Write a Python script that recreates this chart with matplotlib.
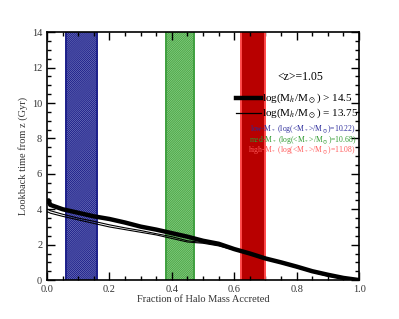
import matplotlib
matplotlib.use("agg")
import matplotlib.pyplot as plt
from matplotlib.ticker import MultipleLocator, FormatStrFormatter

plt.rcParams.update({
    "font.family": ["Liberation Serif", "DejaVu Serif"],
    "mathtext.fontset": "stix",
    "hatch.linewidth": 0.8,
})

# accretion histories (fraction of halo mass accreted vs lookback time)
frac = [0.0, 0.005, 0.01, 0.05, 0.10, 0.15, 0.20, 0.25, 0.30, 0.35, 0.40, 0.45,
        0.50, 0.55, 0.60, 0.65, 0.70, 0.75, 0.80, 0.85, 0.90, 0.95, 1.0]
t_high = [4.45, 4.5, 4.25, 4.0, 3.8, 3.6, 3.45, 3.25, 3.02, 2.85, 2.65, 2.45,
          2.22, 2.05, 1.75, 1.5, 1.22, 1.0, 0.76, 0.5, 0.3, 0.12, 0.0]
t_low1 = [3.85, 3.83, 3.78, 3.6, 3.4, 3.2, 3.0, 2.85, 2.7, 2.55, 2.35, 2.15,
          2.08, 1.93, 1.7, 1.45, 1.2, 0.95, 0.7, 0.45, 0.22, 0.08, 0.0]
t_low2 = [4.0, 3.98, 3.92, 3.72, 3.5, 3.32, 3.12, 2.95, 2.8, 2.62, 2.45, 2.22,
          2.12, 1.98, 1.74, 1.5, 1.24, 1.0, 0.75, 0.52, 0.3, 0.12, 0.0]

# stellar mass bins, shown as bands
bands_lo = [0.06, 0.38, 0.62]
bands_hi = [0.16, 0.47, 0.70]
band_labels = [r"low-M$_*$ (log(<M$_*$>/M$_\odot$)=10.22)",
               r"med-M$_*$ (log(<M$_*$>/M$_\odot$)=10.68)",
               r"high-M$_*$ (log(<M$_*$>/M$_\odot$)=11.08)"]
band_face = ["#d6d9f2", "#a8dba4", "#b80000"]
band_hatch_col = ["#1c1f8a", "#4caa47", "#b80000"]
band_edge = ["#1c1f8a", "#3fa03f", "#ff4a4a"]
band_text = ["#2a2a9a", "#2e9a2e", "#ff5a5a"]
hatches = ["/" * 17, "/" * 15, None]

fig = plt.figure(figsize=(3.99, 3.19), dpi=100)
ax = fig.add_axes([0.118, 0.122, 0.782, 0.777])

for lo, hi, fc, hc, ec, h in zip(bands_lo, bands_hi, band_face, band_hatch_col,
                                 band_edge, hatches):
    ax.axvspan(lo, hi, facecolor=fc, edgecolor=hc, hatch=h, lw=0, zorder=1)
    ax.axvline(lo, color=ec, lw=1.4, zorder=2)
    ax.axvline(hi, color=ec, lw=1.4, zorder=2)

ax.plot(frac, t_high, color="black", lw=3.2, zorder=3)
ax.plot(frac, t_low1, color="black", lw=0.8, zorder=3)
ax.plot(frac, t_low2, color="black", lw=0.8, zorder=3)

ax.set_xlim(0, 1)
ax.set_ylim(0, 14)
ax.xaxis.set_major_locator(MultipleLocator(0.2))
ax.xaxis.set_minor_locator(MultipleLocator(0.05))
ax.yaxis.set_major_locator(MultipleLocator(2))
ax.yaxis.set_minor_locator(MultipleLocator(0.5))
ax.xaxis.set_major_formatter(FormatStrFormatter("%.1f"))
ax.tick_params(which="both", direction="in", top=True, right=True,
               labelsize=7.5, width=1.0, labelcolor="#333333")
ax.tick_params(which="major", length=6)
ax.tick_params(which="minor", length=3)
for sp in ax.spines.values():
    sp.set_linewidth(1.2)
    sp.set_zorder(5)

ax.set_xlabel("Fraction of Halo Mass Accreted", fontsize=7.5, labelpad=1,
              color="#333333")
ax.set_ylabel("Lookback time from z (Gyr)", fontsize=7.5, labelpad=3,
              color="#333333")

# legend drawn by hand in axes coordinates
ax.text(0.81, 0.82, "<z>=1.05", transform=ax.transAxes, fontsize=8.5,
        ha="center", va="center", zorder=6)
ax.plot([0.605, 0.685], [0.735, 0.735], transform=ax.transAxes, color="black",
        lw=3.2, zorder=6)
ax.plot([0.605, 0.685], [0.675, 0.675], transform=ax.transAxes, color="black",
        lw=0.9, zorder=6)
ax.text(0.69, 0.735, r"log(M$_h$/M$_\odot$) > 14.5", transform=ax.transAxes,
        fontsize=8, ha="left", va="center", zorder=6)
ax.text(0.69, 0.675, r"log(M$_h$/M$_\odot$) = 13.75", transform=ax.transAxes,
        fontsize=8, ha="left", va="center", zorder=6)
for i, (lab, c) in enumerate(zip(band_labels, band_text)):
    ax.text(0.99, 0.61 - 0.043 * i, lab, transform=ax.transAxes, fontsize=5.5,
            color=c, ha="right", va="center", zorder=6)

fig.savefig("out.png", dpi=100)
